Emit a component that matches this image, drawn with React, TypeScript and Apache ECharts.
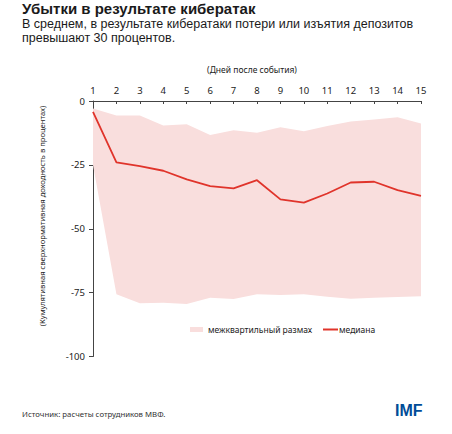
import React, { useEffect, useRef } from "react";
import * as echarts from "echarts";

const days = ["1", "2", "3", "4", "5", "6", "7", "8", "9", "10", "11", "12", "13", "14", "15"];
const median = [-4.3, -24, -25.5, -27.3, -30.7, -33.3, -34.2, -31, -38.5, -39.8, -36.2, -31.9, -31.6, -34.9, -37.1];
const upperQ = [-2.9, -5.7, -5.7, -9.6, -9.1, -13.3, -11.4, -12.4, -10.3, -11.8, -9.8, -8, -7.2, -6.4, -8.8];
const lowerQ = [-25, -75.6, -79.2, -79, -79.5, -77, -77.5, -75.6, -75.9, -75.6, -76.6, -77.4, -77, -76.7, -76.4];
const yTicks = [0, -25, -50, -75, -100];

const FONT = "'Noto Sans', 'Open Sans', sans-serif";
const HEAD = "'Liberation Sans', Arial, sans-serif";
const BAND = "#f9dedd";
const RED = "#e0342b";

export default function App() {
  const ref = useRef<HTMLDivElement>(null);
  useEffect(() => {
    document.body.style.margin = "0";
    const chart = echarts.init(ref.current!, null, { renderer: "svg" });
    const spread = upperQ.map((u, i) => +(u - lowerQ[i]).toFixed(2));
    chart.setOption({
      animation: false,
      textStyle: { fontFamily: FONT },
      grid: { left: 93, right: 31, top: 101, bottom: 77.5, containLabel: false },
      xAxis: {
        type: "category",
        data: days,
        position: "top",
        boundaryGap: false,
        axisLine: { lineStyle: { color: "#444", width: 1 } },
        axisTick: { inside: true, length: 3, lineStyle: { color: "#444" } },
        axisLabel: { fontSize: 9.5, color: "#222", margin: 6, fontFamily: FONT },
      },
      yAxis: {
        type: "value",
        min: -100,
        max: 0,
        interval: 25,
        axisLine: { show: true, lineStyle: { color: "#444", width: 1 } },
        axisTick: { show: true, length: 4, lineStyle: { color: "#444" } },
        axisLabel: {
          fontSize: 9.5,
          color: "#222",
          margin: 8,
          fontFamily: FONT,
          formatter: (v: number) => (yTicks.includes(v) ? String(v) : ""),
        },
        splitLine: { show: false },
      },
      legend: [
        {
          left: 190,
          top: 325,
          padding: 0,
          itemWidth: 13,
          itemHeight: 5,
          textStyle: { fontSize: 8.5, color: "#222", fontFamily: FONT },
          data: [{ name: "межквартильный размах", icon: "rect" }],
        },
        {
          left: 323,
          top: 325,
          padding: 0,
          itemWidth: 15,
          itemHeight: 2,
          textStyle: { fontSize: 8.5, color: "#222", fontFamily: FONT, padding: [0, 0, 0, -4] },
          data: [{ name: "медиана", icon: "rect" }],
        },
      ],
      series: [
        {
          name: "lower",
          type: "line",
          data: lowerQ,
          stack: "band",
          stackStrategy: "all",
          symbol: "none",
          lineStyle: { opacity: 0 },
          silent: true,
        },
        {
          name: "межквартильный размах",
          type: "line",
          data: spread,
          stack: "band",
          stackStrategy: "all",
          symbol: "none",
          lineStyle: { opacity: 0, width: 0 },
          itemStyle: { color: BAND },
          areaStyle: { color: BAND, opacity: 1 },
          silent: true,
        },
        {
          name: "медиана",
          type: "line",
          data: median,
          symbol: "none",
          itemStyle: { color: RED },
          lineStyle: { color: RED, width: 1.8 },
          z: 5,
        },
      ],
      graphic: [
        {
          type: "text",
          left: 22,
          top: 0.5,
          style: { text: "Убытки в результате кибератак", fontSize: 15, lineHeight: 16, fontWeight: "bold", fill: "#1a1a1a", fontFamily: HEAD },
        },
        {
          type: "text",
          left: 22,
          top: 17,
          style: {
            text: "В среднем, в результате кибератаки потери или изъятия депозитов",
            fontSize: 12.5,
            lineHeight: 14,
            fill: "#1a1a1a",
            fontFamily: HEAD,
          },
        },
        {
          type: "text",
          left: 22,
          top: 31,
          style: {
            text: "превышают 30 процентов.",
            fontSize: 12.5,
            lineHeight: 14,
            fill: "#1a1a1a",
            fontFamily: HEAD,
          },
        },
        {
          type: "text",
          x: 252,
          y: 69,
          style: { text: "(Дней после события)", fontSize: 8.5, fill: "#222", align: "center", verticalAlign: "middle", fontFamily: FONT },
        },
        {
          type: "text",
          x: 42,
          y: 216,
          rotation: Math.PI / 2,
          style: {
            text: "(Кумулятивная сверхнормативная доходность в процентах)",
            fontSize: 7.6,
            fill: "#222",
            align: "center",
            verticalAlign: "middle",
            fontFamily: FONT,
          },
        },
        {
          type: "text",
          left: 22,
          top: 410,
          style: { text: "Источник: расчеты сотрудников МВФ.", fontSize: 7.8, fill: "#333", fontFamily: FONT },
        },
        {
          type: "text",
          left: 395,
          top: 402,
          style: { text: "IMF", fontSize: 16, fontWeight: "bold", fill: "#004c97", fontFamily: "'Liberation Sans', Arial, sans-serif" },
        },
      ],
    });
    return () => chart.dispose();
  }, []);
  return <div ref={ref} style={{ width: 452, height: 434 }} />;
}
